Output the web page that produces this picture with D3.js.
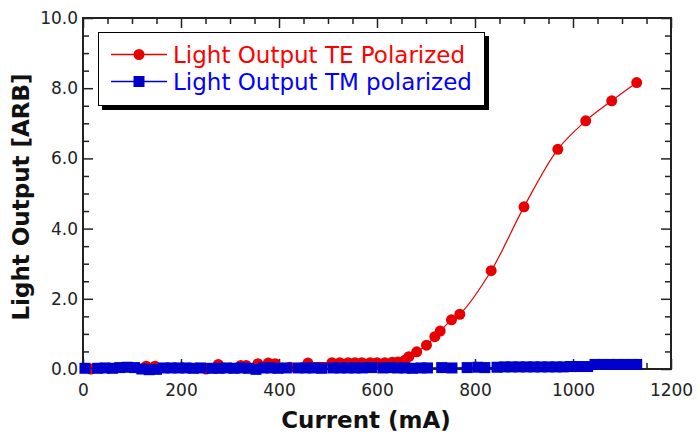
<!DOCTYPE html>
<html>
<head>
<meta charset="utf-8">
<script src="https://cdn.jsdelivr.net/npm/d3@7"></script>
<style>
  body { margin: 0; background: #fff; }
  svg text { font-family: "DejaVu Sans", Verdana, sans-serif; }
</style>
</head>
<body>
<div id="chart"></div>
<script>
// TE polarized light output (red circles)
const teCurrent = [16, 129, 147, 251, 276, 322, 333, 357, 378, 392, 422, 459, 508, 524, 541, 555, 569, 586, 600, 616, 631, 643, 657, 665, 681, 701, 718, 729, 752, 769, 833, 900, 969, 1026, 1079, 1130]
const teOutput = [0.0, 0.08, 0.08, 0.0, 0.13, 0.1, 0.1, 0.15, 0.17, 0.15, 0.05, 0.17, 0.18, 0.18, 0.18, 0.18, 0.18, 0.18, 0.18, 0.18, 0.19, 0.2, 0.25, 0.35, 0.49, 0.68, 0.92, 1.08, 1.40, 1.56, 2.80, 4.62, 6.26, 7.07, 7.64, 8.16]

// TM polarized light output (blue squares)
const tmCurrent = [4, 30, 45, 60, 75, 90, 105, 120, 135, 150, 165, 180, 195, 210, 225, 240, 263, 278, 293, 308, 323, 338, 353, 368, 383, 398, 415, 439, 455, 470, 487, 510, 525, 540, 555, 570, 589, 612, 627, 642, 657, 672, 690, 703, 732, 753, 784, 806, 820, 845, 860, 875, 890, 905, 920, 935, 950, 965, 980, 995, 1010, 1030, 1045, 1060, 1075, 1090, 1105, 1120, 1130]
const tmOutput = [0.02, 0.02, 0.03, 0.02, 0.04, 0.05, 0.04, 0.0, -0.02, -0.01, 0.03, 0.03, 0.03, 0.03, 0.02, 0.03, 0.02, 0.02, 0.03, 0.02, 0.03, 0.02, -0.01, 0.03, 0.03, 0.02, 0.03, 0.03, 0.03, 0.03, 0.02, 0.03, 0.03, 0.03, 0.03, 0.03, 0.04, 0.03, 0.04, 0.03, 0.03, 0.02, 0.03, 0.03, 0.04, 0.03, 0.04, 0.05, 0.04, 0.05, 0.06, 0.06, 0.06, 0.06, 0.06, 0.06, 0.06, 0.06, 0.06, 0.07, 0.07, 0.07, 0.13, 0.13, 0.13, 0.13, 0.13, 0.13, 0.13]

const xMajor = [0, 200, 400, 600, 800, 1000, 1200]
const yMajor = [0, 2, 4, 6, 8, 10]
const legendLabels = ["Light Output TE Polarized", "Light Output TM polarized"]

const width = 698
const height = 438
const red = "#e60000"
const blue = "#0000cc"

const svg = d3.select("#chart")
  .append("svg")
  .attr("width", width)
  .attr("height", height)

const x = d3.scaleLinear().domain([0, 1200]).range([83, 671])
const y = d3.scaleLinear().domain([0, 10]).range([369, 18])

const xMinor = d3.range(0, 1201, 50).filter(v => v % 200 !== 0)
const yMinor = d3.range(0, 10.01, 0.5).filter(v => v % 2 !== 0)

// minor ticks on all four sides (inward)
function drawAxis(axis, tx, ty) {
  const g = svg.append("g")
    .attr("transform", "translate(" + tx + "," + ty + ")")
    .call(axis)
  g.select(".domain").remove()
  g.selectAll(".tick line").attr("stroke", "#222").attr("stroke-width", 1.5)
  return g
}

drawAxis(d3.axisBottom(x).tickValues(xMinor).tickSize(-6).tickFormat(""), 0, y(0))
drawAxis(d3.axisTop(x).tickValues(xMinor).tickSize(-6).tickFormat(""), 0, y(10))
drawAxis(d3.axisLeft(y).tickValues(yMinor).tickSize(-6).tickFormat(""), x(0), 0)
drawAxis(d3.axisRight(y).tickValues(yMinor).tickSize(-6).tickFormat(""), x(1200), 0)

const xAxisG = drawAxis(d3.axisBottom(x).tickValues(xMajor).tickSize(-10).tickPadding(15).tickFormat(d3.format("d")), 0, y(0))
drawAxis(d3.axisTop(x).tickValues(xMajor).tickSize(-10).tickFormat(""), 0, y(10))
const yAxisG = drawAxis(d3.axisLeft(y).tickValues(yMajor).tickSize(-10).tickPadding(5).tickFormat(d3.format(".1f")), x(0), 0)
drawAxis(d3.axisRight(y).tickValues(yMajor).tickSize(-10).tickFormat(""), x(1200), 0)

svg.selectAll(".tick text")
  .attr("font-size", 17)
  .attr("fill", "#222")
  .style("font-family", "'DejaVu Sans', sans-serif")

// plot frame
svg.append("rect")
  .attr("x", x(0))
  .attr("y", y(10))
  .attr("width", x(1200) - x(0))
  .attr("height", y(0) - y(10))
  .attr("fill", "none")
  .attr("stroke", "#222")
  .attr("stroke-width", 2)

// axis titles
svg.append("text")
  .attr("x", 366)
  .attr("y", 428)
  .attr("text-anchor", "middle")
  .attr("font-size", 23)
  .attr("font-weight", "bold")
  .attr("fill", "#111")
  .text("Current (mA)")

svg.append("text")
  .attr("transform", "translate(29,197) rotate(-90)")
  .attr("text-anchor", "middle")
  .attr("font-size", 23)
  .attr("font-weight", "bold")
  .attr("fill", "#111")
  .text("Light Output [ARB]")

// TE series
const te = teCurrent.map((c, i) => ({ c: c, v: teOutput[i] }))
const tm = tmCurrent.map((c, i) => ({ c: c, v: tmOutput[i] }))

const line = d3.line()
  .x(d => x(d.c))
  .y(d => y(d.v))
  .curve(d3.curveCatmullRom)

svg.append("path")
  .datum(te)
  .attr("d", line)
  .attr("fill", "none")
  .attr("stroke", red)
  .attr("stroke-width", 1.2)

svg.selectAll(".te")
  .data(te)
  .enter()
  .append("circle")
  .attr("class", "te")
  .attr("cx", d => x(d.c))
  .attr("cy", d => y(d.v))
  .attr("r", 5.5)
  .attr("fill", red)

// TM series
svg.append("path")
  .datum(tm)
  .attr("d", line)
  .attr("fill", "none")
  .attr("stroke", blue)
  .attr("stroke-width", 1.2)

svg.selectAll(".tm")
  .data(tm)
  .enter()
  .append("rect")
  .attr("class", "tm")
  .attr("x", d => x(d.c) - 5.5)
  .attr("y", d => y(d.v) - 5.5)
  .attr("width", 11)
  .attr("height", 11)
  .attr("fill", blue)

// legend
const legend = svg.append("g").attr("id", "legend")
legend.append("rect")
  .attr("x", 102).attr("y", 36)
  .attr("width", 387).attr("height", 74)
  .attr("fill", "#000")
legend.append("rect")
  .attr("x", 98.5).attr("y", 32.5)
  .attr("width", 386).attr("height", 73)
  .attr("fill", "#fff")
  .attr("stroke", "#000")
  .attr("stroke-width", 1)

const rowY = [54.5, 81.5]
const colors = [red, blue]
legendLabels.forEach((label, i) => {
  legend.append("line")
    .attr("x1", 111).attr("x2", 167)
    .attr("y1", rowY[i]).attr("y2", rowY[i])
    .attr("stroke", colors[i])
    .attr("stroke-width", 1.5)
  if (i === 0) {
    legend.append("circle")
      .attr("cx", 139).attr("cy", rowY[i]).attr("r", 5.5)
      .attr("fill", colors[i])
  } else {
    legend.append("rect")
      .attr("x", 133.5).attr("y", rowY[i] - 5.5)
      .attr("width", 11).attr("height", 11)
      .attr("fill", colors[i])
  }
  legend.append("text")
    .attr("x", 173)
    .attr("y", rowY[i] + 8.5)
    .attr("font-size", 23)
    .attr("fill", colors[i] === red ? "#f00" : "#00f")
    .text(label)
})
</script>
</body>
</html>
